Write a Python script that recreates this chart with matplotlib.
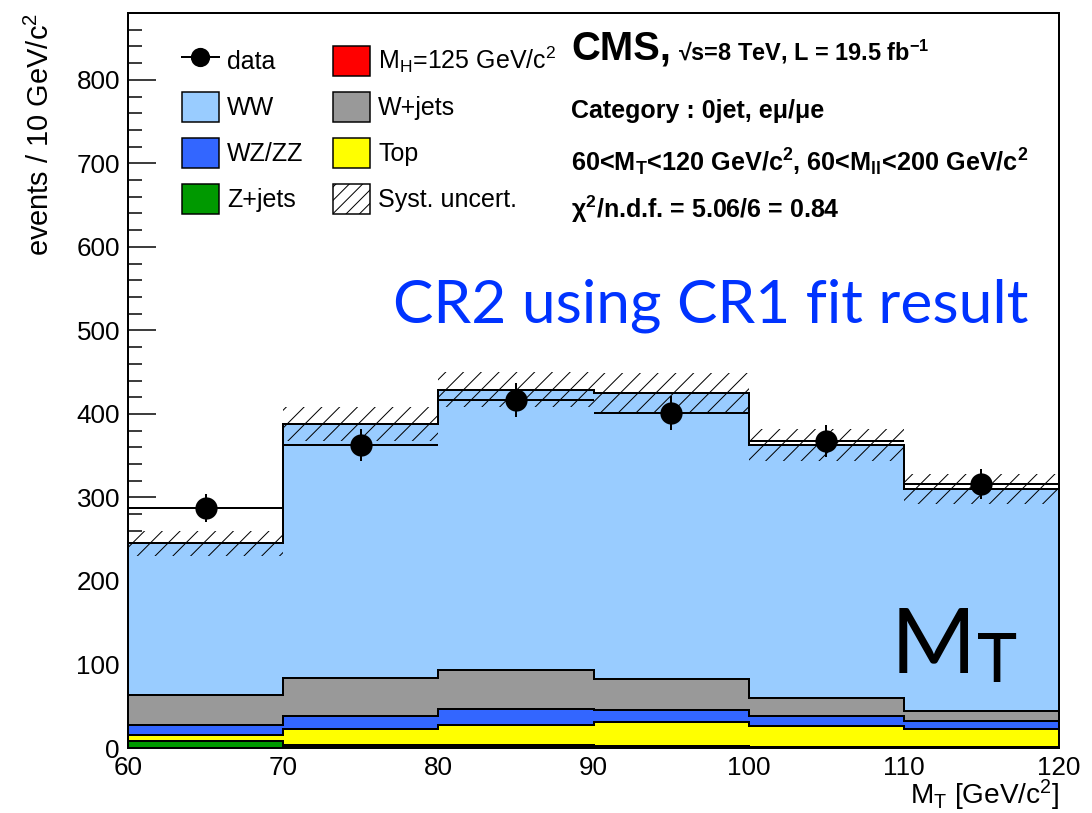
import matplotlib
matplotlib.use('Agg')
import matplotlib.pyplot as plt
from matplotlib.lines import Line2D
from matplotlib.patches import Patch
from matplotlib.ticker import MultipleLocator
import numpy as np

DPI = 160
W, H = 1092, 813


def pt(px):
    # pixel size -> points at the output resolution
    return px * 72.0 / DPI


def fx(px):
    return px / W


def fy(px):
    return 1 - px / H


# M_T bins [GeV/c^2]
edges = np.array([60, 70, 80, 90, 100, 110, 120])

# backgrounds, stacked bottom to top
higgs = np.array([0.3, 1.0, 1.0, 1.0, 0.5, 0.3])
zjets = np.array([7.5, 3.0, 2.5, 1.5, 0.5, 0.3])
top = np.array([7.2, 18.3, 23.5, 28.1, 24.8, 22.4])
wzzz = np.array([12.5, 16.4, 19.7, 15.2, 12.8, 9.6])
wjets = np.array([35.9, 45.3, 46.9, 37.2, 21.7, 12.0])
ww = np.array([181.6, 304.0, 335.4, 342.5, 302.7, 266.0])

# systematic uncertainty on total prediction
syst = np.array([15, 20, 21, 23, 19, 18])

# observed events
data = np.array([287, 363, 417, 401, 368, 316])

plt.rcParams['font.family'] = ['Liberation Sans', 'DejaVu Sans']
plt.rcParams['mathtext.fontset'] = 'custom'
plt.rcParams['mathtext.rm'] = 'Liberation Sans'
plt.rcParams['mathtext.it'] = 'Liberation Sans:italic'
plt.rcParams['mathtext.bf'] = 'Liberation Sans:bold'
plt.rcParams['hatch.linewidth'] = pt(1.0)

fig = plt.figure(figsize=(W / DPI, H / DPI), dpi=DPI)
ax = fig.add_axes([fx(128), fy(748), fx(1059) - fx(128), fy(13) - fy(748)])

higgs_label = r'M$_\mathregular{H}$=125 GeV/c$^\mathregular{2}$'
stack = [
    (higgs_label, higgs, '#ff0000'),
    ('Z+jets', zjets, '#009900'),
    ('Top', top, '#ffff00'),
    ('WZ/ZZ', wzzz, '#3366ff'),
    ('W+jets', wjets, '#999999'),
    ('WW', ww, '#99ccff'),
]

cum = np.zeros(len(edges) - 1)
handles = {}
for label, vals, color in stack:
    ax.stairs(cum + vals, edges, baseline=cum.copy(), fill=True,
              facecolor=color, edgecolor='black', linewidth=pt(2), zorder=2)
    handles[label] = Patch(facecolor=color, edgecolor='black', linewidth=pt(1.5))
    cum = cum + vals
total = cum

# hatched systematic band around the total
ax.stairs(total + syst, edges, baseline=total - syst, fill=True,
          facecolor='none', edgecolor='black', hatch='///', linewidth=0, zorder=3)

centers = 0.5 * (edges[:-1] + edges[1:])
half = 0.5 * np.diff(edges)
ax.errorbar(centers, data, xerr=half, yerr=np.sqrt(data), fmt='o', color='black',
            ms=pt(20), elinewidth=pt(2), capsize=0, zorder=4)

ax.set_xlim(60, 120)
ax.set_ylim(0, 880)
ax.xaxis.set_major_locator(MultipleLocator(10))
ax.xaxis.set_minor_locator(MultipleLocator(2))
ax.yaxis.set_major_locator(MultipleLocator(100))
ax.yaxis.set_minor_locator(MultipleLocator(20))
ax.tick_params(axis='both', which='both', direction='in', top=False, right=False,
               width=pt(1.5), labelsize=pt(26), pad=pt(8), zorder=5)
ax.tick_params(axis='x', which='major', length=pt(22))
ax.tick_params(axis='x', which='minor', length=pt(11))
ax.tick_params(axis='y', which='major', length=pt(28))
ax.tick_params(axis='y', which='minor', length=pt(14))
for s in ax.spines.values():
    s.set_linewidth(pt(2))
    s.set_zorder(6)

ax.set_xlabel(r'M$_\mathregular{T}$ [GeV/c$^\mathregular{2}$]', fontsize=pt(28), loc='right')
ax.xaxis.set_label_coords(1.0, -0.041)
ax.set_ylabel(r'events / 10 GeV/c$^\mathregular{2}$', fontsize=pt(29), loc='top')
ax.yaxis.set_label_coords(-0.078, 1.0)

data_handle = Line2D([], [], color='black', marker='o', ms=pt(17), linewidth=pt(2))
syst_handle = Patch(facecolor='white', edgecolor='black', hatch='////', linewidth=pt(1.5))
leg_handles = [data_handle, handles['WW'], handles['WZ/ZZ'], handles['Z+jets'],
               handles[higgs_label], handles['W+jets'], handles['Top'], syst_handle]
leg_labels = ['data', 'WW', 'WZ/ZZ', 'Z+jets', higgs_label, 'W+jets', 'Top', 'Syst. uncert.']
ax.legend(leg_handles, leg_labels, ncol=2, loc='upper left', bbox_to_anchor=(0.058, 0.957),
          frameon=False, fontsize=pt(25), handlelength=1.48, handleheight=1.5,
          labelspacing=0.62, handletextpad=0.32, columnspacing=1.2,
          borderpad=0, borderaxespad=0)

# experiment / selection labels
fig.text(fx(571), fy(60), 'CMS,', fontsize=pt(40), fontweight='bold', va='baseline')
fig.text(fx(678), fy(60), r'√s=8 TeV, L = 19.5 fb$^{\mathbf{-1}}$', fontsize=pt(23.5),
         fontweight='bold', va='baseline')
fig.text(fx(571), fy(118), 'Category : 0jet, eμ/μe', fontsize=pt(25),
         fontweight='bold', va='baseline')
fig.text(fx(571), fy(171),
         r'60<M$_{\mathbf{T}}$<120 GeV/c$^{\mathbf{2}}$, 60<M$_{\mathbf{ll}}$<200 GeV/c$^{\mathbf{2}}$',
         fontsize=pt(25.3), fontweight='bold', va='baseline')
fig.text(fx(571), fy(218), r'χ$^{\mathbf{2}}$/n.d.f. = 5.06/6 = 0.84', fontsize=pt(25),
         fontweight='bold', va='baseline')

fig.text(fx(393), fy(323), 'CR2 using CR1 fit result', fontsize=pt(60.5),
         family=['Lato', 'DejaVu Sans'], color='#0033ff', va='baseline')
fig.text(fx(891), fy(673), 'M', fontsize=pt(92), family=['Lato', 'DejaVu Sans'],
         color='black', va='baseline')
fig.text(fx(977), fy(682), 'T', fontsize=pt(68), family=['Lato', 'DejaVu Sans'],
         color='black', va='baseline')

fig.savefig('out.png', dpi=DPI)
